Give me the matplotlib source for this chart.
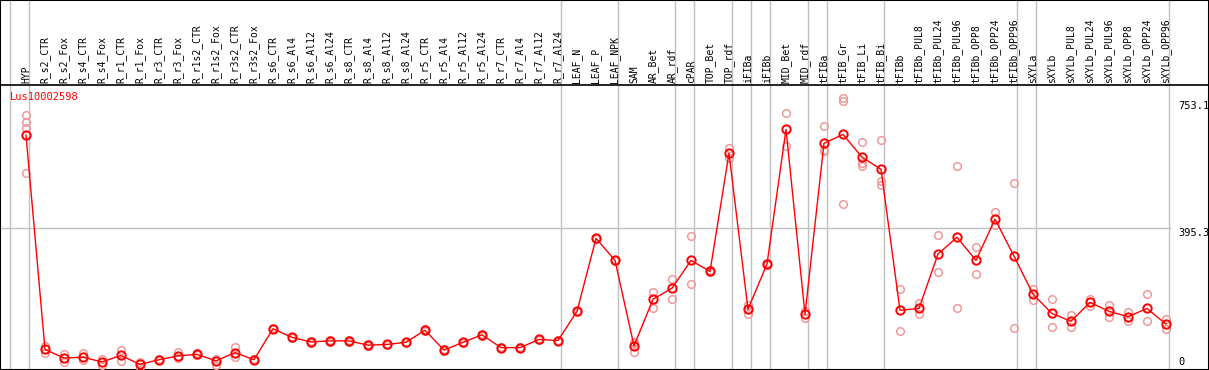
import numpy as np
import matplotlib
matplotlib.use('Agg')
import matplotlib.pyplot as plt

gene = 'Lus10002598'

samples = ['HYP',
           'R_s2_CTR', 'R_s2_Fox', 'R_s4_CTR', 'R_s4_Fox', 'R_r1_CTR', 'R_r1_Fox',
           'R_r3_CTR', 'R_r3_Fox', 'R_r1s2_CTR', 'R_r1s2_Fox', 'R_r3s2_CTR', 'R_r3s2_Fox',
           'R_s6_CTR', 'R_s6_Al4', 'R_s6_Al12', 'R_s6_Al24',
           'R_s8_CTR', 'R_s8_Al4', 'R_s8_Al12', 'R_s8_Al24',
           'R_r5_CTR', 'R_r5_Al4', 'R_r5_Al12', 'R_r5_Al24',
           'R_r7_CTR', 'R_r7_Al4', 'R_r7_Al12', 'R_r7_Al24',
           'LEAF_N', 'LEAF_P', 'LEAF_NPK', 'SAM', 'AR_Bet', 'AR_rdf', 'cPAR',
           'TOP_Bet', 'TOP_rdf', 'iFIBa', 'iFIBb', 'MID_Bet', 'MID_rdf',
           'tFIBa', 'tFIB_Gr', 'tFIB_Li', 'tFIB_Bi',
           'tFIBb', 'tFIBb_PUL8', 'tFIBb_PUL24', 'tFIBb_PUL96',
           'tFIBb_OPP8', 'tFIBb_OPP24', 'tFIBb_OPP96',
           'sXYLa', 'sXYLb', 'sXYLb_PUL8', 'sXYLb_PUL24', 'sXYLb_PUL96',
           'sXYLb_OPP8', 'sXYLb_OPP24', 'sXYLb_OPP96']

means = [657,
         55, 31, 33, 20, 38, 13, 26, 37, 41, 23, 46, 26,
         113, 89, 76, 79, 79, 67, 69, 75, 109, 53, 75, 96, 60, 60, 83, 80,
         162, 367, 305, 65, 196, 227, 305,
         274, 606, 168, 295, 673, 154,
         634, 659, 595, 561,
         165, 170, 323, 370, 305, 421, 317,
         210, 156, 134, 187, 162, 147, 170, 126]

# replicate values (light circles)
reps = [[713, 694, 676, 551],
        [65, 44], [41, 20], [44, 25], [28, 11], [54, 23], [20, 5],
        [28, 24], [47, 30], [44, 38], [29, 12], [63, 33], [28, 24],
        [115, 111], [91, 87], [78, 74], [81, 77],
        [81, 77], [69, 65], [71, 67], [77, 73],
        [111, 107], [55, 51], [77, 73], [98, 94],
        [62, 58], [62, 58], [85, 81], [82, 78],
        [164, 160], [369, 365], [307, 303], [72, 76, 47], [216, 172], [252, 197], [373, 238],
        [278, 272], [622, 592], [180, 154], [298, 292], [718, 626], [164, 142],
        [682, 612, 616], [761, 752, 463], [637, 578, 571], [642, 527, 516],
        [224, 106], [185, 155], [376, 272], [569, 170],
        [342, 266], [440, 404], [522, 115],
        [225, 193], [197, 118], [151, 119], [197, 176], [180, 146],
        [159, 134], [211, 135], [141, 113]]

group_bounds = [0, 1, 29, 32, 35, 36, 38, 39, 40, 42, 43, 46, 53, 54, 61]
ytick_vals = [753.1, 395.3, 0]

W, H = 1209, 370
x0_px, dx_px = 26, 19          # pixel of first point, column width
y0_px, sy = 369, 0.356         # pixel of value 0, pixels per unit


def px_x(p):
    return (p - x0_px) / dx_px


def px_y(p):
    return (y0_px - p) / sy


fig = plt.figure(figsize=(W / 100, H / 100), dpi=100)
ax = fig.add_axes([0, 0, 1, 1])
ax.set_xlim(px_x(0), px_x(W))
ax.set_ylim(px_y(H), px_y(0))
ax.set_xticks([])
ax.set_yticks([])
for s in ax.spines.values():
    s.set_color('black')
    s.set_linewidth(1.5)

# grid lines
for k in group_bounds:
    ax.axvline(k - 16 / 19, color='#c0c0c0', lw=1, zorder=1)
ax.axhline(395.3, xmin=0, xmax=1170 / W, color='#c0c0c0', lw=1, zorder=1)
ax.axhline(px_y(85), color='black', lw=1.2, zorder=2)

x = np.arange(len(samples))

# replicates
for i, r in enumerate(reps):
    ax.plot([i] * len(r), r, ls='none', marker='o', ms=5.5, mfc='none',
            mec='#f09a9a', mew=1.1, zorder=3)

ax.plot(x, means, color='red', lw=1, zorder=4)
ax.plot(x, means, ls='none', marker='o', ms=6, mfc='none', mec='red',
        mew=1.4, zorder=5)

mono = 'DejaVu Sans Mono'
for i, name in enumerate(samples):
    ax.text(i, px_y(83), name, rotation=90, ha='center', va='bottom',
            fontsize=7, family=mono)

ax.text(px_x(10), px_y(92), gene, color='red', ha='left', va='top',
        fontsize=7.5, family=mono)

for v in ytick_vals:
    if v == 0:
        ax.text(px_x(1178), px_y(367), '0', ha='left', va='bottom',
                fontsize=7.5, family=mono)
    else:
        ax.text(px_x(1178), v, f'{v}', ha='left', va='top',
                fontsize=7.5, family=mono)

fig.savefig('out.png', dpi=100)
